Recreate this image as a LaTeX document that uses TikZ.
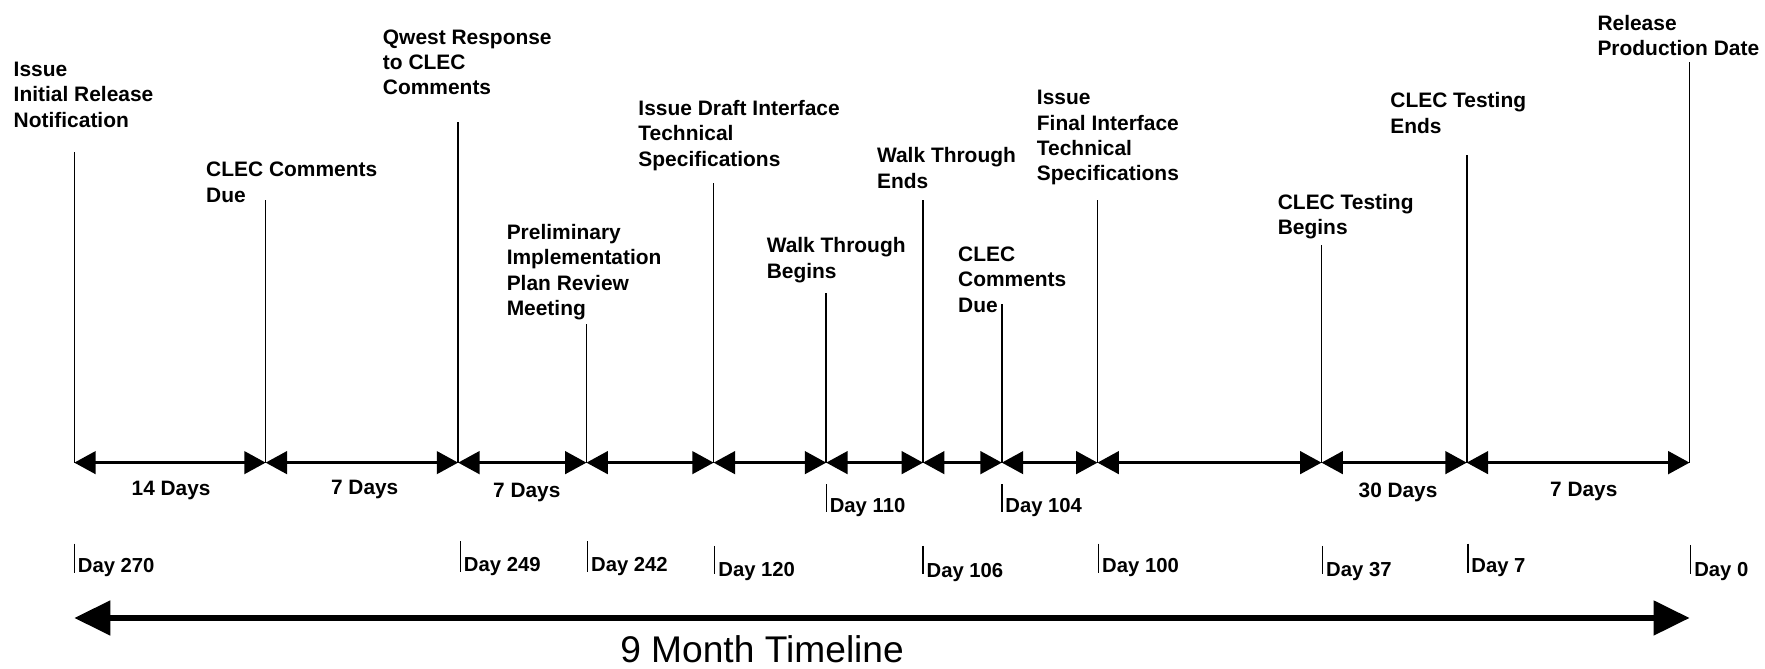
\documentclass[tikz,border=0pt]{standalone}
\usepackage{fontspec}
\setmainfont{Liberation Sans}
\usetikzlibrary{arrows.meta}
\tikzset{
  milestone/.style={line width=1.4pt},
  span/.style={
    line width=2.6pt,
    {Triangle[length=19pt,width=20pt]}-{Triangle[length=19pt,width=20pt]}
  },
  event/.style={anchor=north west, inner sep=0pt, align=left,
    font=\bfseries\fontsize{18.6}{22.5}\selectfont},
  dur/.style={anchor=base, inner sep=0pt,
    font=\bfseries\fontsize{18.5}{22.5}\selectfont},
  daytick/.style={line width=1.2pt},
  daylabel/.style={anchor=base west, inner sep=0pt,
    font=\bfseries\fontsize{18}{22}\selectfont},
  timeline/.style={
    line width=5pt,
    {Triangle[length=32pt,width=30pt]}-{Triangle[length=32pt,width=30pt]}
  }
}

\begin{document}
\begin{tikzpicture}[x=1pt,y=-1pt]
  \useasboundingbox (0,0) rectangle (1568,594);
  % milestones: number / x / top of line
  \foreach \n/\x/\t in {1/66/135, 2/236/178, 3/407/108, 4/521/288,
      5/634/163, 6/734/260, 7/820/178, 8/890/270, 9/975/178,
      10/1174/218, 11/1303/138, 12/1501/55} {
    \coordinate (m\n) at (\x,411);
    \coordinate (m\n top) at (\x,\t);
    \draw[milestone] (m\n) -- (m\n top);
  }
  % spans between milestones
  \foreach \a [count=\b from 2] in {1,...,11}
    \draw[span] (m\a) -- (m\b);
  % milestone texts
  \node[event] (ev1) at (12,55) {Issue\\Initial Release\\Notification};
  \node[event] (ev2) at (183,144) {CLEC Comments\\Due};
  \node[event] (ev3) at (340,26) {Qwest Response\\to CLEC\\Comments};
  \node[event] (ev4) at (450,199) {Preliminary\\Implementation\\Plan Review\\Meeting};
  \node[event] (ev5) at (567,89) {Issue Draft Interface\\Technical\\Specifications};
  \node[event] (ev6) at (681,211) {Walk Through\\Begins};
  \node[event] (ev7) at (779,131) {Walk Through\\Ends};
  \node[event] (ev8) at (851,219) {CLEC\\Comments\\Due};
  \node[event] (ev9) at (921,80) {Issue\\Final Interface\\Technical\\Specifications};
  \node[event] (ev10) at (1135,172) {CLEC Testing\\Begins};
  \node[event] (ev11) at (1235,82) {CLEC Testing\\Ends};
  \node[event] (ev12) at (1419,13) {Release\\Production Date};
  % durations
  \node[dur] (dur14) at (152,440) {14 Days};
  \node[dur] (dur7a) at (324,439) {7 Days};
  \node[dur] (dur7b) at (468,442) {7 Days};
  \node[dur] (dur30) at (1242,442) {30 Days};
  \node[dur] (dur7c) at (1407,441) {7 Days};
  % day marks: day / x / top / bottom / baseline
  \foreach \d/\x/\ya/\yb/\yt in {110/734/430/455/455, 104/890/430/455/455,
      270/66/483/509/509, 249/409/481/508/508, 242/522/481/508/508,
      120/635/485/510/512, 106/820/485/510/513, 100/976/483/509/509,
      37/1175/485/510/512, 7/1304/483/509/509, 0/1502/484/510/512} {
    \coordinate (day\d) at (\x,\ya);
    \coordinate (day\d end) at (\x,\yb);
    \draw[daytick] (day\d) -- (day\d end);
    \node[daylabel] (lab\d) at (\x+3,\yt) {Day \d};
  }
  % nine month arrow
  \coordinate (start) at (66,549);
  \coordinate (finish) at (1501,549);
  \draw[timeline] (start) -- (finish);
  \node[inner sep=0pt] (title) at (677,577) {\fontsize{33}{38}\selectfont 9 Month Timeline};
\end{tikzpicture}
\end{document}
